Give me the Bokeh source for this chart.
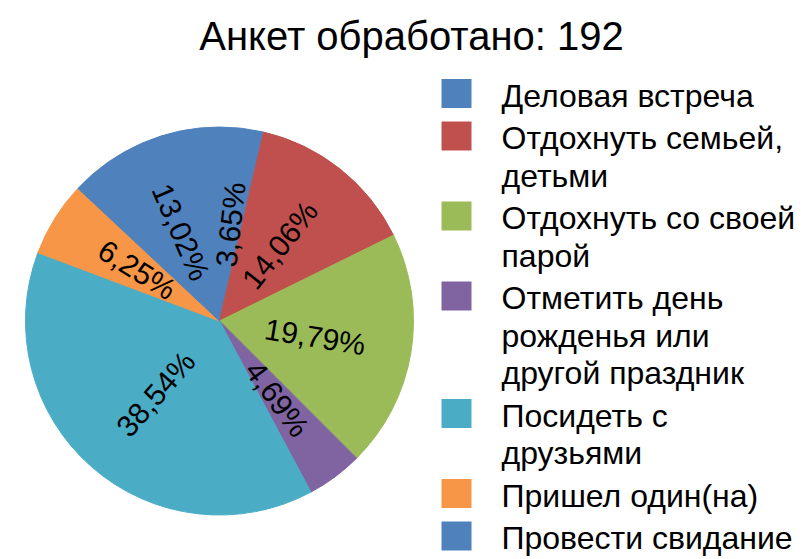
import numpy as np
from bokeh.plotting import figure
from bokeh.models import Range1d, Label, ColumnDataSource
from bokeh.embed import file_html
from bokeh.resources import INLINE
from bokeh.core.properties import value

title_text = "Анкет обработано: 192"
categories = [
    "Деловая встреча",
    "Отдохнуть семьей,\nдетьми",
    "Отдохнуть со своей\nпарой",
    "Отметить день\nрожденья или\nдругой праздник",
    "Посидеть с\nдрузьями",
    "Пришел один(на)",
    "Провести свидание",
]
percents = [3.65, 14.06, 19.79, 4.69, 38.54, 6.25, 13.02]
colors = ["#4F81BD", "#C0504D", "#9BBB59", "#8064A2", "#4BACC6", "#F79646", "#4F81BD"]

FONT = "Liberation Sans"
W, H = 802, 559
LEG_FS, TITLE_FS = 32, 40


def sy(screen_y):
    return H - screen_y


def sx(screen_x):
    return screen_x


p = figure(width=W, height=H, x_range=Range1d(0, W), y_range=Range1d(0, H),
           output_backend="svg", toolbar_location=None, min_border=0,
           x_axis_location=None, y_axis_location=None)
p.grid.visible = False
p.outline_line_color = None
p.background_fill_color = "white"
p.border_fill_color = "white"

# ---- pie ----
cx, cy, r = sx(219), sy(320.5), 194
vals = np.array(percents, dtype=float)
frac = vals / vals.sum()
ends = np.cumsum(frac)
starts = ends - frac
start_angle = np.pi / 2 - 2 * np.pi * ends
end_angle = np.pi / 2 - 2 * np.pi * starts

pie_src = ColumnDataSource(dict(start=start_angle, end=end_angle, color=colors))
p.wedge(x=cx, y=cy, radius=r, start_angle="start", end_angle="end",
        direction="anticlock", fill_color="color", line_color="color",
        line_width=1, source=pie_src)

mid = (starts + ends) / 2
phi = np.pi / 2 - 2 * np.pi * mid
lx = cx + 0.5 * r * np.cos(phi)
ly = cy + 0.5 * r * np.sin(phi)
ang = np.where(np.cos(phi) >= 0, phi, phi + np.pi)
labels = [("%.2f" % v).replace(".", ",") + "%" for v in percents]
lab_src = ColumnDataSource(dict(x=lx, y=ly, t=labels, a=ang))
p.text(x="x", y="y", text="t", angle="a", source=lab_src,
       text_align="center", text_baseline="middle",
       text_font=value(FONT), text_font_size="30px", text_color="black")

# ---- legend ----
line_h, gap = 37.5, 5.0
base = 106.0
sq_y = []
tx, ty, tt = [], [], []
for cat in categories:
    lines = cat.split("\n")
    sq_y.append(sy(base - 13))
    for i, ln in enumerate(lines):
        tx.append(sx(501))
        ty.append(sy(base + i * line_h - 0.34 * LEG_FS))
        tt.append(ln)
    base += len(lines) * line_h + gap

p.rect(x=sx(456), y=sq_y, width=30, height=29, fill_color=colors, line_color=None)
p.text(x=tx, y=ty, text=tt, text_align="left", text_baseline="middle",
       text_font=value(FONT), text_font_size="%dpx" % LEG_FS, text_color="black")

# ---- title ----
p.add_layout(Label(x=sx(411), y=sy(49 - 0.34 * TITLE_FS), text=title_text, text_align="center",
                   text_baseline="middle", text_font=FONT,
                   text_font_size="%dpx" % TITLE_FS, text_color="black"))

open("out.html", "w").write(file_html(p, INLINE))
